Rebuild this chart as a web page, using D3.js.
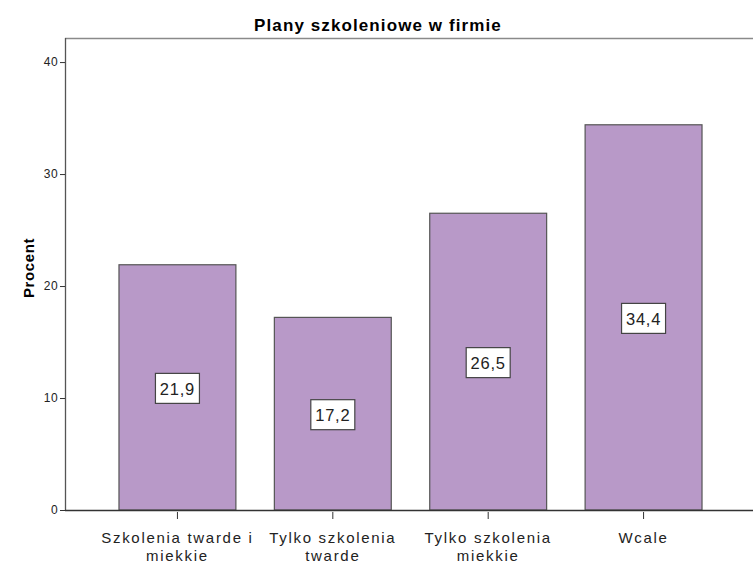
<!DOCTYPE html>
<html>
<head>
<meta charset="utf-8">
<script src="https://cdn.jsdelivr.net/npm/d3@7"></script>
<style>
  body { margin: 0; background: #fff; }
  svg { font-family: Arial, "Liberation Sans", sans-serif; }
</style>
</head>
<body>
<div id="chart"></div>
<script>
// chart data
var categories = [["Szkolenia twarde i", "miekkie"], ["Tylko szkolenia", "twarde"], ["Tylko szkolenia", "miekkie"], ["Wcale"]];
var values = [21.9, 17.2, 26.5, 34.4];
var yTicks = [0, 10, 20, 30, 40];

var width = 753, height = 563,
    margin = {top: 38, right: 0, bottom: 53, left: 65};

var svg = d3.select("#chart").append("svg")
  .attr("width", width)
  .attr("height", height);

var x = d3.scaleBand()
  .domain(d3.range(categories.length))
  .range([99.75, 721.25])
  .paddingInner(0.2476)
  .paddingOuter(0.1238);

var y = d3.scaleLinear()
  .domain([0, 42.15])
  .range([height - margin.bottom, margin.top]);

// top frame line
svg.append("line")
  .attr("x1", margin.left).attr("x2", width)
  .attr("y1", margin.top + 0.5).attr("y2", margin.top + 0.5)
  .attr("stroke", "#8a8a8a").attr("stroke-width", 1.5);

// bars
svg.selectAll("rect.bar").data(values).enter().append("rect")
  .attr("class", "bar")
  .attr("x", function(d, i){ return x(i); })
  .attr("y", function(d){ return y(d); })
  .attr("width", x.bandwidth())
  .attr("height", function(d){ return y(0) - y(d); })
  .attr("fill", "#b899c8")
  .attr("stroke", "#555")
  .attr("stroke-width", 1.2);

// y axis
var yAxis = svg.append("g")
  .attr("transform", "translate(" + margin.left + ",0)")
  .call(d3.axisLeft(y).tickValues(yTicks).tickSize(5).tickPadding(2).tickSizeOuter(0));
yAxis.select(".domain").attr("stroke", "#555").attr("stroke-width", 1.3)
  .attr("d", "M0.5," + y(0) + "V" + margin.top);
yAxis.selectAll(".tick line").attr("stroke", "#333");
yAxis.selectAll(".tick text").attr("font-size", 12).attr("fill", "#222")
  .attr("letter-spacing", 0.4)
  .attr("font-family", "Arial, 'Liberation Sans', sans-serif");

// x axis
var xAxis = svg.append("g")
  .attr("transform", "translate(0," + y(0) + ")")
  .call(d3.axisBottom(x).tickSize(9).tickSizeOuter(0).tickFormat(""));
xAxis.select(".domain").attr("stroke", "#333").attr("stroke-width", 1.3)
  .attr("d", "M" + margin.left + ",0.5H" + width);
xAxis.selectAll(".tick line").attr("stroke", "#333").attr("y1", 2);

xAxis.selectAll(".tick").each(function(d){
  var t = d3.select(this).append("text")
    .attr("text-anchor", "middle")
    .attr("fill", "#222")
    .attr("font-size", 15)
    .attr("letter-spacing", 1.7)
    .attr("font-family", "Arial, 'Liberation Sans', sans-serif");
  categories[d].forEach(function(line, j){
    t.append("tspan").attr("x", 0).attr("y", 33 + j * 17.5).text(line);
  });
});

// value labels
var labels = svg.selectAll("g.vlabel").data(values).enter().append("g")
  .attr("class", "vlabel")
  .attr("transform", function(d, i){ return "translate(" + (x(i) + x.bandwidth() / 2) + "," + y(d / 2) + ")"; });
labels.append("rect")
  .attr("x", -22).attr("y", -14)
  .attr("width", 44).attr("height", 30)
  .attr("fill", "#fff").attr("stroke", "#444").attr("stroke-width", 1.2);
labels.append("text")
  .attr("text-anchor", "middle")
  .attr("dy", "0.38em")
  .attr("y", 1)
  .attr("font-size", 16.5)
  .attr("letter-spacing", 0.8)
  .attr("fill", "#222")
  .text(function(d){ return d3.format(".1f")(d).replace(".", ","); });

// title
svg.append("text")
  .attr("x", 378).attr("y", 31)
  .attr("text-anchor", "middle")
  .attr("font-size", 17).attr("font-weight", "bold")
  .attr("letter-spacing", 1.1)
  .text("Plany szkoleniowe w firmie");

// y label
svg.append("text")
  .attr("transform", "translate(34,268) rotate(-90)")
  .attr("text-anchor", "middle")
  .attr("font-size", 15).attr("font-weight", "bold")
  .attr("letter-spacing", 0.6)
  .text("Procent");
</script>
</body>
</html>
